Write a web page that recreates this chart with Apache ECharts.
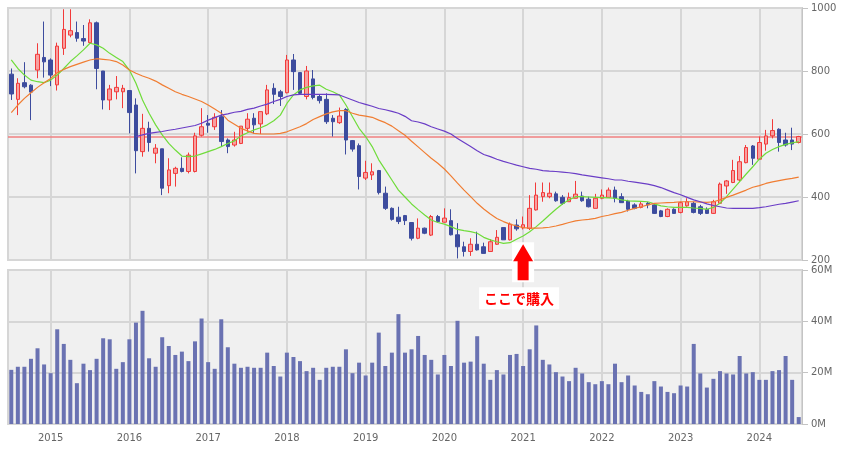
<!DOCTYPE html>
<html><head><meta charset="utf-8">
<script src="https://cdn.jsdelivr.net/npm/echarts@6/dist/echarts.min.js"></script>
<style>html,body{margin:0;padding:0;background:#fff}#c{width:846px;height:451px}</style>
</head><body><div id="c"></div>
<script>
// monthly categories 2014-07 .. 2024-07
const categories = [];
for (let y = 2014, m = 7; categories.length < 121; ) {
  categories.push(y + '-' + String(m).padStart(2, '0'));
  m++; if (m > 12) { m = 1; y++; }
}
const yearTicks = ['2015-01','2016-01','2017-01','2018-01','2019-01','2020-01','2021-01','2022-01','2023-01','2024-01'];
const buyMonth = '2021-01';
const refPrice = 590;

const openP = [790,710,763,755,803,843,835,756,872,914,922,903,890,953,800,708,734,734,738,692,
544,618,539,553,436,475,491,481,481,596,634,623,655,581,565,570,618,650,632,664,
745,734,731,835,795,719,775,719,710,650,636,678,579,563,460,470,484,412,364,336,
341,319,269,301,279,338,320,325,280,242,227,250,242,227,250,303,264,311,302,300,
359,401,401,410,399,385,396,403,393,364,396,399,422,401,387,375,367,380,375,356,
338,361,351,372,380,369,361,348,380,435,446,454,509,562,520,568,594,615,581,581,573];
const closeP = [727,761,750,733,853,829,787,879,932,928,904,895,953,808,708,743,748,745,668,547,
618,573,555,428,486,491,481,533,594,623,628,653,576,560,581,625,647,629,671,740,
726,719,835,798,729,800,716,706,639,639,657,581,552,465,478,480,414,364,329,322,
325,269,301,285,338,322,333,280,242,227,250,232,221,258,272,264,314,299,312,364,
406,414,412,388,380,398,409,388,369,396,406,422,396,382,361,364,378,375,348,338,
361,348,382,385,351,348,348,385,441,451,484,512,557,523,573,594,611,573,565,568,592];
const lowP = [708,660,745,644,777,779,752,738,851,907,893,880,888,742,678,676,710,682,602,475,
528,544,507,406,412,433,478,475,478,592,604,613,560,539,560,568,607,602,600,660,
695,689,729,740,727,710,710,697,632,592,632,535,544,424,454,454,408,359,325,314,
311,262,266,282,276,319,319,278,205,211,213,230,221,227,248,264,262,293,297,295,
357,385,396,385,375,385,396,385,367,364,393,399,383,382,354,361,364,364,346,336,
336,346,348,369,348,343,346,346,378,410,444,449,507,502,518,547,586,544,560,549,570];
const highP = [808,777,828,758,888,957,840,890,996,996,957,946,964,957,800,756,784,756,738,713,
664,639,568,553,523,496,526,541,604,682,660,666,676,586,607,625,666,666,671,756,
761,740,851,854,795,816,803,724,729,660,684,682,581,570,515,507,486,433,367,369,
343,319,332,303,343,343,364,361,317,258,269,290,255,266,295,303,319,329,338,406,
446,446,446,417,406,414,451,417,401,410,424,430,433,412,391,380,385,384,378,359,
364,364,385,396,385,375,367,391,446,454,518,530,565,565,592,613,647,618,604,620,594];

const maShort = [835,808,787,771,766,763,771,787,808,830,848,867,888,883,872,856,843,830,803,761,
708,666,629,597,570,549,530,528,530,537,544,551,560,570,578,594,604,613,620,629,
642,660,697,724,740,748,753,755,742,734,724,692,655,618,592,560,518,486,454,422,
400,378,360,343,327,319,314,306,297,293,290,285,272,264,258,253,255,266,276,290,
306,324,343,361,378,391,401,401,400,399,398,397,396,391,388,387,386,385,378,372,
369,367,367,367,365,364,361,367,380,401,425,449,473,496,520,539,551,560,567,572,576];
const maMid = [668,692,713,731,748,763,776,795,805,814,821,828,835,839,837,835,830,819,803,793,
784,777,768,756,745,734,726,719,711,703,692,679,666,644,631,618,610,602,600,600,
600,602,607,615,623,633,646,655,664,670,674,674,666,660,657,653,644,636,625,610,
596,577,559,541,523,507,489,467,444,422,401,380,362,346,332,322,314,308,303,301,
301,302,304,308,313,319,324,327,329,332,338,342,347,351,358,364,369,375,380,381,
382,383,385,385,385,384,383,385,391,399,406,414,422,431,436,443,448,452,456,459,463];
const maLong = [null,null,null,null,null,null,null,null,null,null,null,null,null,null,null,null,null,null,null,592,
597,602,605,608,612,615,619,623,627,634,644,652,660,664,669,672,678,682,689,695,
703,710,719,724,726,726,726,726,726,725,724,716,708,700,694,688,681,677,672,666,
656,642,638,632,623,616,609,600,586,573,560,547,535,528,520,513,507,501,496,491,
488,484,482,481,479,477,474,470,467,464,461,458,454,454,450,447,444,441,436,430,
422,414,407,399,391,385,378,373,369,365,364,364,364,364,366,369,373,377,380,384,388];

const volumeM = [21.1,22.3,22.3,25.4,29.5,23.2,19.8,36.9,31.2,25.0,15.9,23.5,21.0,25.4,33.4,33.0,21.5,24.1,33.0,39.5,
44.1,25.6,22.3,33.8,30.4,26.9,28.2,24.5,32.2,41.1,24.1,21.5,40.8,29.9,23.5,21.9,22.3,21.9,21.9,27.8,
22.6,18.5,27.8,26.1,24.5,20.6,21.9,17.2,21.9,22.3,22.3,29.1,19.8,23.9,18.9,23.9,35.6,22.6,27.8,42.8,
27.8,29.1,34.3,26.9,25.0,19.3,26.9,22.6,40.2,23.9,24.3,34.2,23.5,17.2,21.0,19.3,26.9,27.3,22.6,29.1,
38.4,25.0,23.2,20.2,18.5,16.7,21.9,19.7,16.3,15.5,16.7,15.5,23.5,16.3,18.9,15.0,12.5,11.6,16.7,14.6,
12.5,12.0,15.0,14.6,31.2,19.7,14.2,17.6,20.6,19.7,19.3,26.5,19.7,20.2,17.2,17.2,20.6,21.0,26.5,17.2,2.7];

const candleData = openP.map((o, i) => [o, closeP[i], lowP[i], highP[i]]);
const gridLineStyle = { color: '#d6d6d6', width: 2, type: 'solid' };
const labelFont = { color: '#666', fontSize: 10, fontFamily: 'DejaVu Sans' };

const chart = echarts.init(document.getElementById('c'), null, { renderer: 'canvas' });
chart.setOption({
  animation: false,
  backgroundColor: '#fff',
  grid: [
    { left: 8, right: 44, top: 8, height: 252, show: true, backgroundColor: '#f0f0f0', borderColor: '#d6d6d6', borderWidth: 2 },
    { left: 8, right: 44, top: 270, height: 154, show: true, backgroundColor: '#f0f0f0', borderColor: '#d6d6d6', borderWidth: 2 }
  ],
  xAxis: [
    { type: 'category', data: categories, gridIndex: 0, boundaryGap: true,
      axisLine: { show: false }, axisTick: { show: false }, axisLabel: { show: false }, splitLine: { show: false } },
    { type: 'category', data: categories, gridIndex: 1, boundaryGap: true,
      axisLine: { show: false }, axisTick: { show: false },
      axisLabel: Object.assign({ show: true, margin: 9,
        interval: (idx, v) => yearTicks.indexOf(v) >= 0,
        formatter: v => v.slice(0, 4) }, labelFont),
      splitLine: { show: false } }
  ],
  yAxis: [
    { type: 'value', gridIndex: 0, position: 'right', min: 200, max: 1000, interval: 200,
      axisLine: { show: true, lineStyle: { color: '#c4c4c4' } },
      axisTick: { show: true, length: 6, lineStyle: { color: '#c4c4c4' } },
      axisLabel: Object.assign({ margin: 9, formatter: v => String(v) }, labelFont),
      splitLine: { show: true, lineStyle: gridLineStyle } },
    { type: 'value', gridIndex: 1, position: 'right', min: 0, max: 60, interval: 20,
      axisLine: { show: true, lineStyle: { color: '#c4c4c4' } },
      axisTick: { show: true, length: 6, lineStyle: { color: '#c4c4c4' } },
      axisLabel: Object.assign({ margin: 9, formatter: v => v + 'M' }, labelFont),
      splitLine: { show: true, lineStyle: gridLineStyle } }
  ],
  series: [
    { type: 'candlestick', name: 'price', xAxisIndex: 0, yAxisIndex: 0, data: candleData, barWidth: 4,
      itemStyle: { color: '#f7a0a0', color0: '#3d4c9e', borderColor: '#f23a3a', borderColor0: '#3d4c9e', borderWidth: 1 },
      markLine: { silent: true, z: 1, symbol: ['none', 'none'], label: { show: false },
        data: yearTicks.map(t => ({ xAxis: t, lineStyle: gridLineStyle }))
          .concat([{ yAxis: refPrice, lineStyle: { color: '#f08080', width: 1.5, type: 'solid' } }]) } },
    { type: 'line', name: 'ma-short', xAxisIndex: 0, yAxisIndex: 0, data: maShort, symbol: 'none',
      lineStyle: { color: '#6fdc3a', width: 1.2 } },
    { type: 'line', name: 'ma-mid', xAxisIndex: 0, yAxisIndex: 0, data: maMid, symbol: 'none',
      lineStyle: { color: '#f07d32', width: 1.2 } },
    { type: 'line', name: 'ma-long', xAxisIndex: 0, yAxisIndex: 0, data: maLong, symbol: 'none',
      lineStyle: { color: '#6a3dc6', width: 1.2 } },
    { type: 'bar', name: 'volume', xAxisIndex: 1, yAxisIndex: 1, data: volumeM, barWidth: 4,
      itemStyle: { color: '#6a72b2' },
      markLine: { silent: true, z: 1, symbol: ['none', 'none'], label: { show: false },
        data: yearTicks.map(t => ({ xAxis: t, lineStyle: gridLineStyle })) } }
  ]
});

// annotation: buy arrow + label
const px = chart.convertToPixel({ xAxisIndex: 0 }, buyMonth);
const tipY = chart.convertToPixel({ yAxisIndex: 0 }, 250);
chart.setOption({
  graphic: [
    { type: 'rect', shape: { x: px - 11, y: tipY - 2, width: 22, height: 40 }, style: { fill: '#fff' }, z: 10 },
    { type: 'polygon', z: 11,
      shape: { points: [[px, tipY], [px + 10, tipY + 17], [px + 5.5, tipY + 17], [px + 5.5, tipY + 36],
                        [px - 5.5, tipY + 36], [px - 5.5, tipY + 17], [px - 10, tipY + 17]] },
      style: { fill: '#ff0000' } },
    { type: 'text', z: 11, x: px - 4, y: tipY + 54,
      style: { text: 'ここで購入', fill: '#ff0000', font: 'bold 14px "Noto Sans CJK JP"',
               align: 'center', verticalAlign: 'middle', backgroundColor: '#fff', padding: [4, 5] } }
  ]
});
</script>
</body></html>
